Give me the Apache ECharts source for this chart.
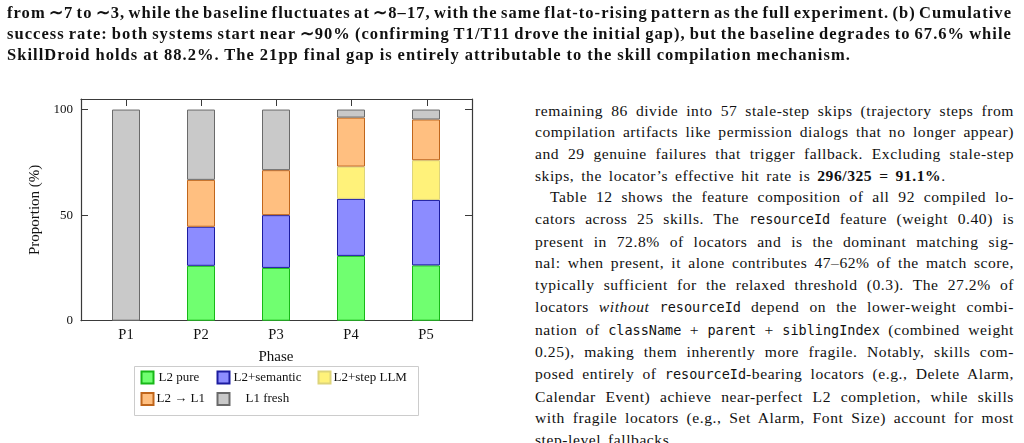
<!DOCTYPE html>
<html>
<head>
<meta charset="utf-8">
<script src="https://cdn.jsdelivr.net/npm/echarts@6/dist/echarts.min.js"></script>
<style>
  html, body { margin:0; padding:0; background:#fff; }
  body { width:1024px; height:443px; position:relative; overflow:hidden; }
  #chart { position:absolute; left:0; top:0; width:500px; height:443px; z-index:0; }
  .txt { position:absolute; z-index:1; font-family:"Liberation Serif", serif; color:#111; }
  #top { left:7px; top:1.5px; width:1005px; font-weight:bold; font-size:16.5px; line-height:21.3px; letter-spacing:1.05px; word-spacing:-2px; }
  #top .n { word-spacing:-0.3px; }
  #right { left:535px; top:99.5px; width:479px; font-size:15.6px; line-height:21.7px; letter-spacing:0.55px; }
  .j { white-space:nowrap; text-align:justify; text-align-last:justify; }
  .n { white-space:nowrap; text-align:left; }
  #right .n { word-spacing:2.5px; }
  .ind { padding-left:15px; }
  code { font-family:"DejaVu Sans Mono", monospace; font-size:13.5px; letter-spacing:0; }
</style>
</head>
<body>
<div id="top" class="txt">
  <div class="j">from ∼7 to ∼3, while the baseline fluctuates at ∼8–17, with the same flat-to-rising pattern as the full experiment. (b) Cumulative</div>
  <div class="j">success rate: both systems start near ∼90% (confirming T1/T11 drove the initial gap), but the baseline degrades to 67.6% while</div>
  <div class="n">SkillDroid holds at 88.2%. The 21pp final gap is entirely attributable to the skill compilation mechanism.</div>
</div>
<div id="right" class="txt">
  <div class="j">remaining 86 divide into 57 stale-step skips (trajectory steps from</div>
  <div class="j">compilation artifacts like permission dialogs that no longer appear)</div>
  <div class="j">and 29 genuine failures that trigger fallback. Excluding stale-step</div>
  <div class="n">skips, the locator’s effective hit rate is <b>296/325 = 91.1%</b>.</div>
  <div class="j ind">Table 12 shows the feature composition of all 92 compiled lo-</div>
  <div class="j">cators across 25 skills. The <code>resourceId</code> feature (weight 0.40) is</div>
  <div class="j">present in 72.8% of locators and is the dominant matching sig-</div>
  <div class="j">nal: when present, it alone contributes 47–62% of the match score,</div>
  <div class="j">typically sufficient for the relaxed threshold (0.3). The 27.2% of</div>
  <div class="j">locators <i>without</i> <code>resourceId</code> depend on the lower-weight combi-</div>
  <div class="j">nation of <code>className</code> + <code>parent</code> + <code>siblingIndex</code> (combined weight</div>
  <div class="j">0.25), making them inherently more fragile. Notably, skills com-</div>
  <div class="j">posed entirely of <code>resourceId</code>-bearing locators (e.g., Delete Alarm,</div>
  <div class="j">Calendar Event) achieve near-perfect L2 completion, while skills</div>
  <div class="j">with fragile locators (e.g., Set Alarm, Font Size) account for most</div>
  <div class="n">step-level fallbacks.</div>
</div>
<div id="chart"></div>
<script>
// ---- data ----
const phases = ['P1', 'P2', 'P3', 'P4', 'P5'];
const seriesNames = ['L2 pure', 'L2+semantic', 'L2+step LLM', 'L2 \u2192 L1', 'L1 fresh'];
const l2Pure     = [null, 26.0, 25.0, 30.7, 26.2];
const l2Semantic = [null, 18.5, 25.0, 27.0, 31.0];
const l2StepLLM  = [null, null, null, 15.3, 18.8];
const l2ToL1     = [null, 22.2, 21.3, 23.2, 19.3];
const l1Fresh    = [100, 33.3, 28.7, 3.8, 4.7];
const yTicks = [0, 50, 100];

// ---- styles ----
const FONT = 'Liberation Serif';
const fills   = ['#70ff70', '#8c8cff', '#fff27a', '#ffbf80', '#c9c9c9'];
const borders = ['#18b818', '#1c1ca0', '#ddd47a', '#c0661c', '#6a6a6a'];
const AX = '#3a3a3a';
const tickPos = phases.map((p, i) => i + 1);   // frame tick positions (one per phase)

const allVals = [l2Pure, l2Semantic, l2StepLLM, l2ToL1, l1Fresh];
const series = allVals.map((vals, k) => ({
  name: seriesNames[k],
  type: 'bar',
  stack: 'total',
  xAxisIndex: 2,
  yAxisIndex: 2,
  barWidth: 28,
  data: vals.map(v => (v == null ? '-' : v)),
  itemStyle: { color: fills[k], borderColor: borders[k], borderWidth: 1 }
}));

const axisLine = { show: true, onZero: false, lineStyle: { color: AX, width: 1.2 } };
const tickStyle = { color: AX, width: 1 };
const frameX = { type: 'value', gridIndex: 0, min: 0.4, max: 5.6, splitLine: { show: false } };
const yBase = { type: 'value', min: 0, max: 105, splitLine: { show: false } };

const legendPos = [
  { left: 140.5, top: 370.5, pad: 0 },
  { left: 216.5, top: 370.5, pad: -1 },
  { left: 317.5, top: 370.5, pad: -2 },
  { left: 140.5, top: 392, pad: -2 },
  { left: 216.5, top: 392, pad: 11 }
];

const option = {
  animation: false,
  backgroundColor: 'transparent',
  grid: [
    { left: 81, top: 99, width: 391, height: 221.7 },      // frame
    { left: 88.5, top: 99, width: 375, height: 221.7 }     // bars
  ],
  xAxis: [
    Object.assign({}, frameX, {
      position: 'bottom',
      axisLine: axisLine,
      axisTick: { show: true, inside: true, length: 7, customValues: tickPos, lineStyle: tickStyle },
      axisLabel: { show: false }
    }),
    Object.assign({}, frameX, {
      position: 'top',
      axisLine: axisLine,
      axisTick: { show: true, inside: true, length: 7, customValues: tickPos, lineStyle: tickStyle },
      axisLabel: { show: false }
    }),
    {
      type: 'category', gridIndex: 1, data: phases, position: 'bottom',
      axisLine: { show: false }, axisTick: { show: false }, splitLine: { show: false },
      axisLabel: { margin: 7, fontFamily: FONT, fontSize: 14.5, color: '#111' },
      name: 'Phase', nameLocation: 'middle', nameGap: 29,
      nameTextStyle: { fontFamily: FONT, fontSize: 15, color: '#111' }
    }
  ],
  yAxis: [
    Object.assign({}, yBase, {
      gridIndex: 0, position: 'left',
      axisLine: axisLine,
      axisTick: { show: true, inside: true, length: 7, customValues: yTicks, lineStyle: tickStyle },
      axisLabel: { customValues: yTicks, margin: 8, fontFamily: FONT, fontSize: 13, color: '#111' },
      name: 'Proportion (%)', nameLocation: 'middle', nameGap: 38, nameRotate: 90,
      nameTextStyle: { fontFamily: FONT, fontSize: 15, color: '#111' }
    }),
    Object.assign({}, yBase, {
      gridIndex: 0, position: 'right',
      axisLine: axisLine,
      axisTick: { show: true, inside: true, length: 7, customValues: yTicks, lineStyle: tickStyle },
      axisLabel: { show: false }
    }),
    Object.assign({}, yBase, {
      gridIndex: 1, show: false
    })
  ],
  legend: seriesNames.map((n, k) => ({
    data: [n],
    left: legendPos[k].left,
    top: legendPos[k].top,
    padding: 0,
    icon: 'rect',
    itemWidth: 12,
    itemHeight: 12,
    selectedMode: false,
    textStyle: { fontFamily: FONT, fontSize: 13, color: '#111', padding: [0, 0, 0, legendPos[k].pad] }
  })),
  graphic: [{
    type: 'rect', z: -10, silent: true,
    shape: { x: 134.5, y: 366.5, width: 284, height: 49 },
    style: { fill: '#fff', stroke: '#cccccc', lineWidth: 1 }
  }],
  series: series
};

const chart = echarts.init(document.getElementById('chart'), null, { renderer: 'canvas' });
chart.setOption(option);
</script>
</body>
</html>
